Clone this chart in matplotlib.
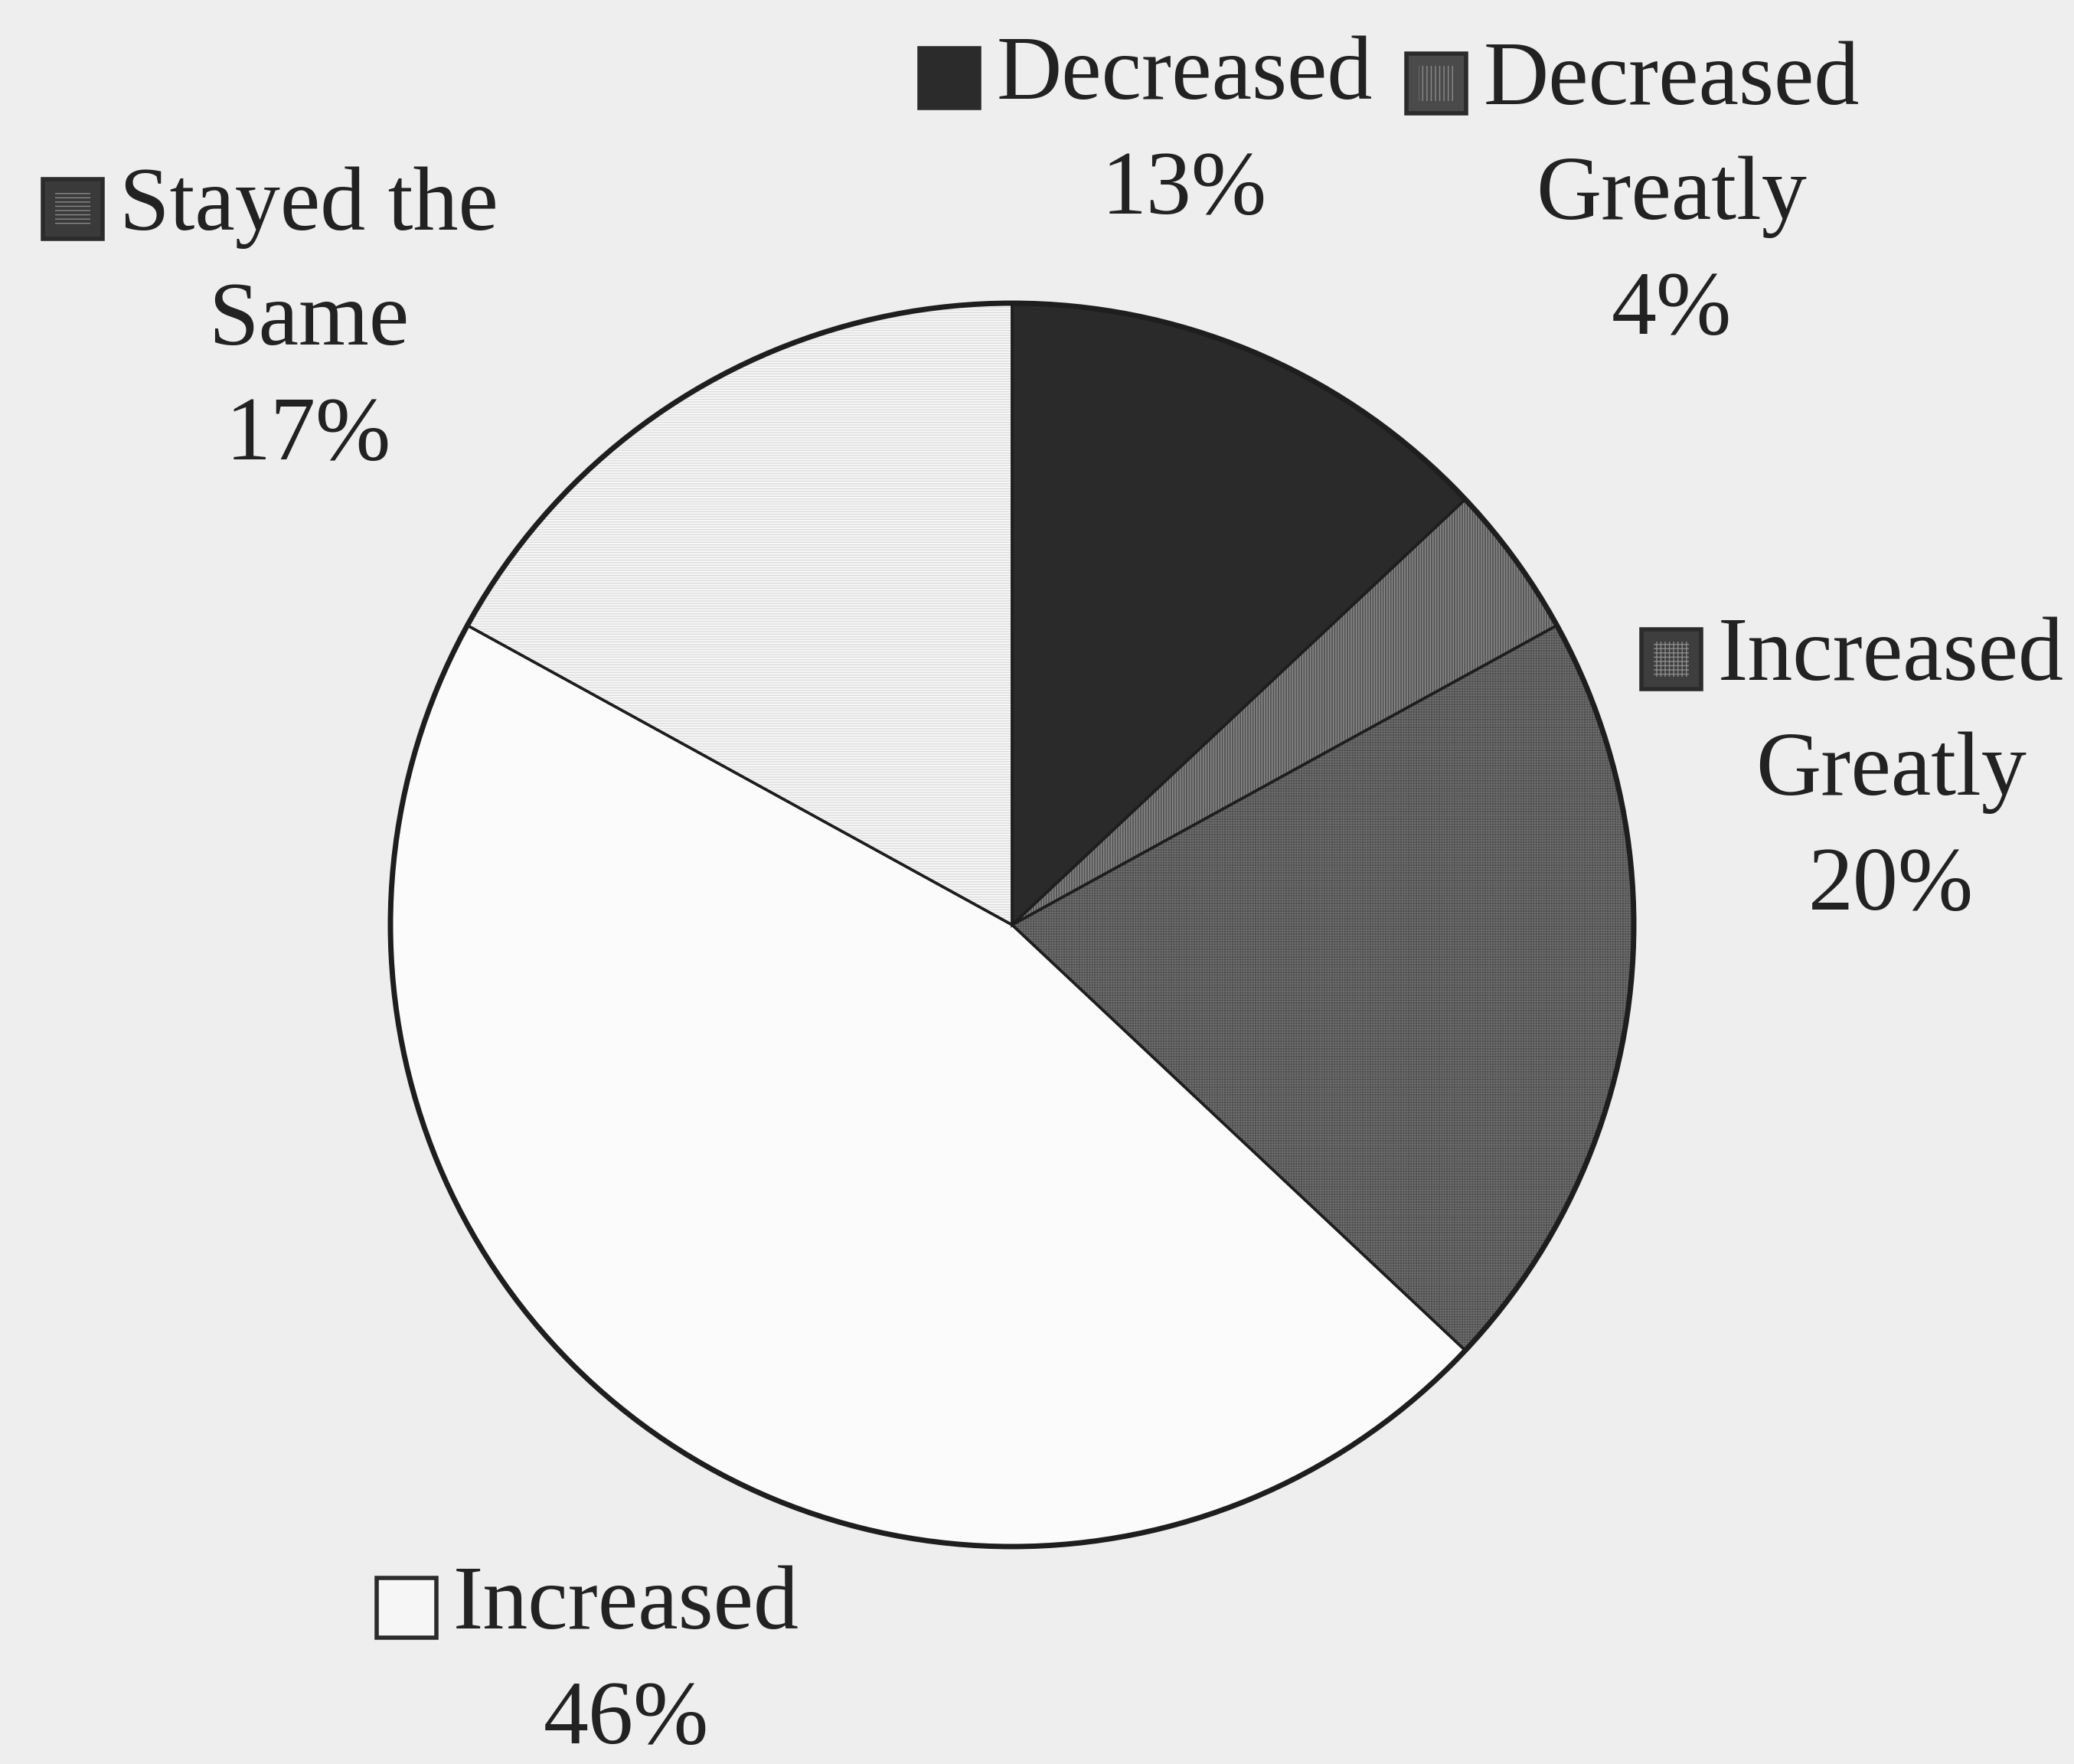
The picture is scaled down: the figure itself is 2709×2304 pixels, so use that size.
import matplotlib
matplotlib.use("Agg")
import matplotlib.pyplot as plt
from matplotlib.patches import Rectangle

# data
categories = ["Decreased", "Decreased Greatly", "Increased Greatly", "Increased", "Stayed the Same"]
shares = [13, 4, 20, 46, 17]
label_lines = [["Decreased"], ["Decreased", "Greatly"], ["Increased", "Greatly"],
               ["Increased"], ["Stayed the", "Same"]]

# styles
face = ["#2a2a2a", "#555555", "#474747", "#fbfbfb", "#f8f8f8"]
hatch_col = ["#2a2a2a", "#8c8c8c", "#6a6a6a", "#fbfbfb", "#dcdcdc"]
hatches = ["", "|||||", "+++++", "", "-----"]
key_face = ["#2b2b2b", "#4a4a4a", "#3e3e3e", "#f6f6f6", "#3a3a3a"]
key_hatch = ["", "|||", "+++", "", "---"]
# label block centre x and first line centre y (pixels from top-left)
label_pos = [(1547, 100), (2183, 107), (2470, 859), (818, 2098), (403, 271)]
W, H = 2709, 2304
line_step = 150

plt.rcParams['font.family'] = ['Liberation Serif', 'DejaVu Serif']
fig = plt.figure(figsize=(W / 100, H / 100), dpi=100)
fig.patch.set_facecolor("#eeeeee")

# pie circle spans x 510..2134, y 396..2020 px
ax = fig.add_axes([510 / W, 1 - 2020 / H, 1624 / W, 1624 / H])
ax.set_aspect('equal')

wedges, _ = ax.pie(shares, startangle=90, counterclock=False,
                   colors=face, wedgeprops=dict(linewidth=0))
for w, hc, ht in zip(wedges, hatch_col, hatches):
    if ht:
        w.set_hatch(ht)
        w.set_edgecolor(hc)
# outlines on top
outl, _ = ax.pie(shares, startangle=90, counterclock=False,
                 wedgeprops=dict(fill=False, edgecolor="#1e1e1e", linewidth=2.5))
# heavier outer rim
rim, _ = ax.pie([sum(shares)], wedgeprops=dict(fill=False, edgecolor="#1e1e1e", linewidth=5))
ax.set_xlim(-1.0, 1.0)
ax.set_ylim(-1.0, 1.0)
ax.axis('off')

renderer = fig.canvas.get_renderer()
for i, cat in enumerate(categories):
    cx, cy = label_pos[i]
    lines = label_lines[i] + ["%d%%" % shares[i]]
    first = None
    for j, ln in enumerate(lines):
        t = fig.text(cx / W, 1 - (cy + j * line_step) / H, ln, ha='center', va='center',
                     fontsize=85, color="#222222")
        if j == 0:
            first = t
    bb = first.get_window_extent(renderer)
    ks = 78
    kx = bb.x0 - 22 - ks
    ky = (H - cy) - ks / 2 - 2
    key = Rectangle((kx / W, ky / H), ks / W, ks / H, transform=fig.transFigure,
                    facecolor=key_face[i], edgecolor="#2b2b2b", linewidth=4)
    fig.patches.append(key)
    if key_hatch[i]:
        inner = Rectangle(((kx + 16) / W, (ky + 16) / H), (ks - 32) / W, (ks - 32) / H,
                          transform=fig.transFigure, facecolor="none",
                          edgecolor="#8a8a8a", linewidth=0, hatch=key_hatch[i])
        fig.patches.append(inner)

fig.savefig("out.png", dpi=100, facecolor=fig.get_facecolor())
